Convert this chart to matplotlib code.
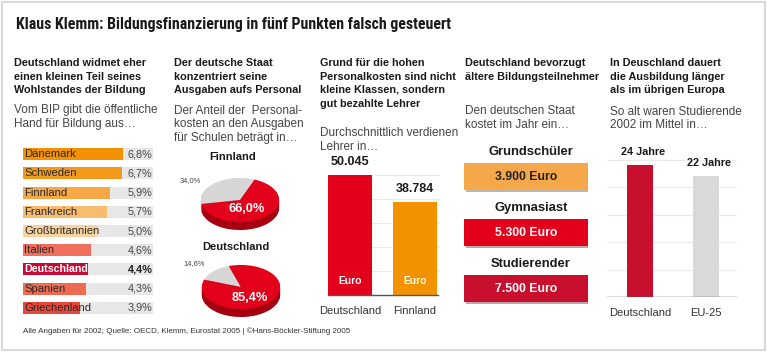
import matplotlib
matplotlib.use("Agg")
import matplotlib.pyplot as plt
import matplotlib.patheffects as pe
from matplotlib import font_manager as fm
from matplotlib.patches import Rectangle

# --- data ---
bip_countries = ["Dänemark", "Schweden", "Finnland", "Frankreich", "Großbritannien",
                 "Italien", "Deutschland", "Spanien", "Griechenland"]
bip_values = [6.8, 6.7, 5.9, 5.7, 5.0, 4.6, 4.4, 4.3, 3.9]
bip_colors = ["#F39200", "#F39A1C", "#F5A845", "#F8BC70", "#FAD29F",
              "#EE6F5C", "#C70A35", "#EE6A50", "#E8473A"]

pie_countries = ["Finnland", "Deutschland"]
pie_personal = [66.0, 85.4]
pie_other = [34.0, 14.6]
pie_start = [68, 108]

teacher_countries = ["Deutschland", "Finnland"]
teacher_salary = [50045, 38784]
teacher_colors = ["#E2001A", "#F39200"]

pupil_types = ["Grundschüler", "Gymnasiast", "Studierender"]
pupil_costs = [3900, 5300, 7500]
pupil_colors = ["#F5A84A", "#E2001A", "#C8102E"]
pupil_textcolors = ["#222222", "white", "white"]

age_regions = ["Deutschland", "EU-25"]
age_values = [24, 22]
age_colors = ["#C8102E", "#D9D9D9"]

W, H = 767, 355
plt.rcParams['font.family'] = ['Liberation Sans', 'DejaVu Sans']
fig = plt.figure(figsize=(W / 100, H / 100), dpi=100)
fig.patch.set_facecolor("white")


def px_ax(x0, y0, x1, y1):
    return fig.add_axes([x0 / W, 1 - y1 / H, (x1 - x0) / W, (y1 - y0) / H])


def T(x, y, s, **kw):
    kw.setdefault("va", "center")
    kw.setdefault("ha", "left")
    return fig.text(x / W, 1 - y / H, s, **kw)


def fmt_de(v, dec=1):
    return f"{v:.{dec}f}".replace(".", ",")


def thousands(v):
    return f"{v:,}".replace(",", ".")


# frame
fig.patches.append(Rectangle((1.5 / W, 5 / H), 763.5 / W, 348 / H, transform=fig.transFigure,
                             fill=False, edgecolor="#D8D8D8", lw=1.5))

# title: pick a condensed face if one is installed
installed = {f.name for f in fm.fontManager.ttflist}
title_kw = dict(family=["Liberation Sans"], fontstretch="normal")
for cand in ["Liberation Sans Narrow", "Roboto Condensed", "Open Sans Condensed",
             "Noto Sans Condensed", "DejaVu Sans Condensed"]:
    if cand in installed:
        title_kw = dict(family=[cand], fontstretch="normal")
        break
else:
    cond = [f for f in fm.fontManager.ttflist if "ondensed" in str(f.stretch) and f.weight in (700, "bold")]
    if cond:
        title_kw = dict(family=[cond[0].name], fontstretch=cond[0].stretch)

title = T(16, 25, "Klaus Klemm: Bildungsfinanzierung in fünf Punkten falsch gesteuert",
          fontsize=15, fontweight="bold", color="#1a1a1a", **title_kw)
renderer = fig.canvas.get_renderer()
tw = title.get_window_extent(renderer).width
title.set_fontsize(min(15, 15 * 437 / tw))

head_kw = dict(fontsize=7.8, fontweight="bold", color="#1a1a1a")
sub_kw = dict(fontsize=8.5, color="#444444")


def lines(x, ys, texts, **kw):
    for y, t in zip(ys, texts):
        T(x, y, t, **kw)


# headings
lines(14, [63, 76.5, 90], ["Deutschland widmet eher", "einen kleinen Teil seines",
                           "Wohlstandes der Bildung"], **head_kw)
lines(14, [110, 124], ["Vom BIP gibt die öffentliche", "Hand für Bildung aus…"], **sub_kw)

lines(174, [63, 76.5, 90], ["Der deutsche Staat", "konzentriert seine",
                            "Ausgaben aufs Personal"], **head_kw)
lines(174, [111, 124.5, 138], ["Der Anteil der  Personal-", "kosten an den Ausgaben",
                               "für Schulen beträgt in…"], **sub_kw)

lines(320, [63, 76.5, 90, 103.5], ["Grund für die hohen", "Personalkosten sind nicht",
                                   "kleine Klassen, sondern", "gut bezahlte Lehrer"], **head_kw)
lines(320, [133, 147], ["Durchschnittlich verdienen", "Lehrer in…"], **sub_kw)

lines(465, [63, 76.5], ["Deutschland bevorzugt", "ältere Bildungsteilnehmer"], **head_kw)
lines(465, [111, 125], ["Den deutschen Staat", "kostet im Jahr ein…"], **sub_kw)

lines(610, [63, 76.5, 90], ["In Deuschland dauert", "die Ausbildung länger",
                            "als im übrigen Europa"], **head_kw)
lines(610, [112, 125.5], ["So alt waren Studierende", "2002 im Mittel in…"], **sub_kw)

# --- panel 1: horizontal bars ---
ax1 = px_ax(23, 144.5, 153, 317.5)
n = len(bip_countries)
xmax = 8.84
ypos = list(range(n))
ax1.barh(ypos, [xmax] * n, height=0.63, color="#E7E7E7")
ax1.barh(ypos, bip_values, height=0.63, color=bip_colors)
for i, (c, v) in enumerate(zip(bip_countries, bip_values)):
    is_de = c == "Deutschland"
    ax1.text(0.1, i, c, va="center", ha="left", fontsize=7.7 if is_de else 8.1,
             color="white" if is_de else "#2a2a2a", fontweight="bold" if is_de else "normal")
    ax1.text(7.1, i, fmt_de(v) + "%", va="center", ha="left", fontsize=7.8,
             color="#222222" if is_de else "#444444", fontweight="bold" if is_de else "normal")
ax1.set_xlim(0, xmax)
ax1.set_ylim(n - 0.5, -0.5)
ax1.axis("off")

# --- panel 2: 3D-like pies ---
pie_boxes = [(195, 170, 285, 232), (196, 257, 286, 319)]
title_pos = [(233, 157), (236, 247)]
small_pos = [(190, 181), (194, 264)]
big_pos = [(247, 209), (250, 298)]
for k in range(2):
    ax = px_ax(*pie_boxes[k])
    vals = [pie_other[k], pie_personal[k]]
    depth = 0.36
    steps = 8
    for s in range(steps, 0, -1):
        d = depth * s / steps
        ax.pie(vals, colors=["#A9A9A9", "#A5000F"], startangle=pie_start[k],
               center=(0, -d), radius=1, wedgeprops=dict(linewidth=0))
    ax.pie(vals, colors=["#D6D6D6", "#E2001A"], startangle=pie_start[k],
           center=(0, 0), radius=1, wedgeprops=dict(linewidth=0))
    ax.set_aspect("auto")
    ax.set_xlim(-1.15, 1.15)
    ax.set_ylim(-1.45, 1.36)
    ax.axis("off")
    T(*title_pos[k], pie_countries[k], ha="center", fontsize=8.0, fontweight="bold", color="#1a1a1a")
    T(*small_pos[k], fmt_de(pie_other[k]) + "%", ha="center", fontsize=5.4, color="#444444")
    T(*big_pos[k], fmt_de(pie_personal[k]) + "%", ha="center", fontsize=9.2,
      fontweight="bold", color="white")

# --- panel 3: teacher salaries ---
ax3 = px_ax(328, 150, 440, 295)
xs = [0, 1]
ax3.set_xlim(-0.34, 1.383)
ax3.set_ylim(0, 60417)
for g in [10000, 20000, 30000, 40000, 50000]:
    ax3.axhline(g, color="#EBEBEB", lw=0.8, zorder=0)
ax3.bar(xs, teacher_salary, width=0.68, color=teacher_colors, zorder=2)
ax3.plot([-0.34, 1.35], [0, 0], color="#555555", lw=1, zorder=3, clip_on=False)
for x, v in zip(xs, teacher_salary):
    ax3.text(x, v + 5400, thousands(v), ha="center", va="center", fontsize=9,
             fontweight="bold", color="#1a1a1a")
    ax3.text(x, 5800, "Euro", ha="center", va="center", fontsize=7.4,
             fontweight="bold", color="white", zorder=4)
ax3.set_xticks(xs)
ax3.set_xticklabels(teacher_countries, fontsize=8, color="#333333")
ax3.tick_params(length=0, pad=8)
for sp in ax3.spines.values():
    sp.set_visible(False)
ax3.set_yticks([])

# --- panel 4: cost boxes ---
ax4 = px_ax(464, 148.5, 588, 316.5)
yp = list(range(len(pupil_types)))
ax4.barh(yp, [1] * len(yp), height=0.48, color=pupil_colors, left=0,
         path_effects=[pe.withSimplePatchShadow(offset=(1.2, -1.2), alpha=0.35), pe.Normal()])
for i, (t, c, tc) in enumerate(zip(pupil_types, pupil_costs, pupil_textcolors)):
    ax4.text(0.54, i - 0.44, t, ha="center", va="center", fontsize=9.4,
             fontweight="bold", color="#1a1a1a")
    ax4.text(0.5, i, thousands(c) + " Euro", ha="center", va="center", fontsize=8.8,
             fontweight="bold", color=tc)
ax4.set_xlim(0, 1)
ax4.set_ylim(len(yp) - 0.5, -0.5)
ax4.axis("off")

# --- panel 5: age of students ---
ax5 = px_ax(607, 145, 737, 297)
xs5 = [0, 1]
ax5.set_xlim(-0.5, 1.47)
ax5.set_ylim(0, 27.64)
for g in [5, 10, 15, 20, 25]:
    ax5.axhline(g, color="#EBEBEB", lw=0.8, zorder=0)
ax5.bar(xs5, age_values, width=0.394, color=age_colors, zorder=2)
ax5.axhline(0, color="#555555", lw=1, zorder=3)
for x, v in zip(xs5, age_values):
    ax5.text(x + 0.04, v + 2.3, f"{v} Jahre", ha="center", va="center", fontsize=7.8,
             fontweight="bold", color="#1a1a1a")
ax5.set_xticks(xs5)
ax5.set_xticklabels(age_regions, fontsize=8, color="#333333")
ax5.tick_params(length=0, pad=8)
for sp in ax5.spines.values():
    sp.set_visible(False)
ax5.set_yticks([])

T(23, 331, "Alle Angaben für 2002; Quelle: OECD, Klemm, Eurostat 2005 | ©Hans-Böckler-Stiftung 2005",
  fontsize=5.8, color="#333333")

fig.savefig("out.png", dpi=100)
